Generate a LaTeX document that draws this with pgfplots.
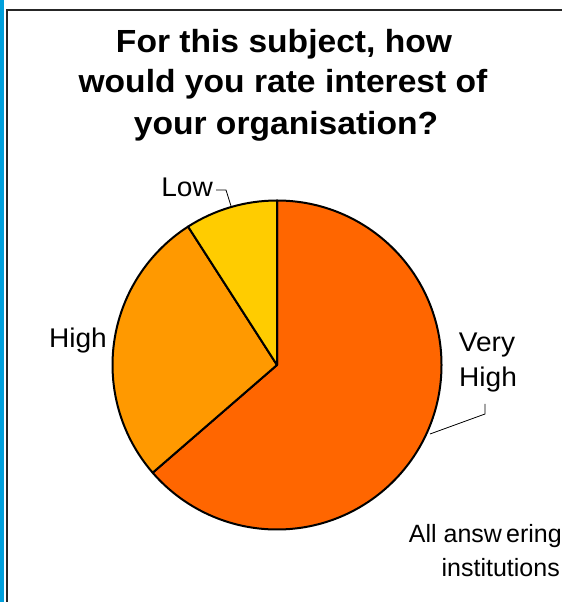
\documentclass[border=0pt]{standalone}
\usepackage{pgfplots}
\pgfplotsset{compat=1.18}
\usepackage{pgfplotstable}
\usepackage{fontspec}
\setmainfont{Liberation Sans}
\definecolor{vhigh}{RGB}{255,102,0}
\definecolor{high}{RGB}{255,153,0}
\definecolor{low}{RGB}{255,204,0}
\definecolor{barblue}{RGB}{0,160,220}

\pgfplotstableread{
label count
VeryHigh 7
High 3
Low 1
}\piedata

\begin{document}
\begin{tikzpicture}
\pgfplotstablegetelem{0}{count}\of\piedata \edef\va{\pgfplotsretval}
\pgfplotstablegetelem{1}{count}\of\piedata \edef\vb{\pgfplotsretval}
\pgfplotstablegetelem{2}{count}\of\piedata \edef\vc{\pgfplotsretval}
\pgfmathsetmacro{\tot}{\va+\vb+\vc}
\pgfmathsetmacro{\eA}{90-360*\va/\tot}
\pgfmathsetmacro{\eB}{\eA-360*\vb/\tot}
\pgfmathsetmacro{\eC}{\eB-360*\vc/\tot}
\begin{axis}[hide axis, scale only axis, width=562pt, height=602pt,
  xmin=0, xmax=562, ymin=0, ymax=602, clip=false]
% frame and side bar
\fill[barblue] (axis cs:0,0) rectangle (axis cs:3.5,602);
\draw[line width=1.5pt, black!85] (axis cs:7,0) -- (axis cs:7,592) -- (axis cs:562,592);
% slices
\filldraw[fill=vhigh, draw=black, line width=2pt, line join=round]
  (axis cs:277,237) -- ++(90:164.5pt) arc[start angle=90, end angle=\eA, radius=164.5pt] -- cycle;
\filldraw[fill=high, draw=black, line width=2pt, line join=round]
  (axis cs:277,237) -- ++(\eA:164.5pt) arc[start angle=\eA, end angle=\eB, radius=164.5pt] -- cycle;
\filldraw[fill=low, draw=black, line width=2pt, line join=round]
  (axis cs:277,237) -- ++(\eB:164.5pt) arc[start angle=\eB, end angle=\eC, radius=164.5pt] -- cycle;
% leader lines
\draw[line width=0.8pt] (axis cs:216,412) -- (axis cs:226,412) -- (axis cs:231,396);
\draw[line width=0.8pt] (axis cs:485,198) -- (axis cs:485,188) -- (axis cs:430,168);
% title
\node[anchor=base, xscale=1.05, font=\fontsize{32}{38}\selectfont\bfseries] at (axis cs:284,549) {For this subject, how};
\node[anchor=base, xscale=1.05, font=\fontsize{32}{38}\selectfont\bfseries] at (axis cs:283,509) {would you rate interest of};
\node[anchor=base, xscale=1.05, font=\fontsize{32}{38}\selectfont\bfseries] at (axis cs:286,467) {your organisation?};
% labels
\node[anchor=base east, inner sep=0pt, xscale=1.04, font=\fontsize{27}{32}\selectfont] at (axis cs:213,405) {Low};
\node[anchor=base east, inner sep=0pt, xscale=1.04, font=\fontsize{27}{32}\selectfont] at (axis cs:107,254) {High};
\node[anchor=base, inner sep=0pt, xscale=1.04, font=\fontsize{27}{32}\selectfont] at (axis cs:487,250) {Very};
\node[anchor=base, inner sep=0pt, xscale=1.04, font=\fontsize{27}{32}\selectfont] at (axis cs:488,215) {High};
\node[anchor=base east, inner sep=0pt, font=\fontsize{25}{30}\selectfont] at (axis cs:562,59) {All answ\,ering};
\node[anchor=base east, inner sep=0pt, font=\fontsize{25}{30}\selectfont] at (axis cs:560,25) {institutions};
\end{axis}
\pgfresetboundingbox
\path[use as bounding box] (0,0) rectangle (562pt,602pt);
\end{tikzpicture}
\end{document}
